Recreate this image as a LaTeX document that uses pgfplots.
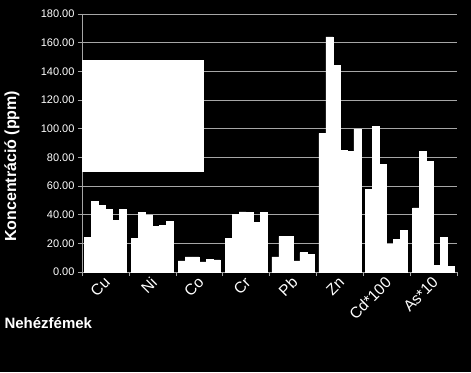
\documentclass[border=0pt]{standalone}
\usepackage{pgfplots}
\pgfplotsset{compat=1.18}
\usepackage{fontspec}
\setmainfont{Liberation Sans}
\begin{document}
\begin{tikzpicture}[x=1pt,y=1pt]
\fill[black] (0,0) rectangle (471,372);
\begin{axis}[
  at={(82pt,100pt)}, anchor=south west,
  width=375pt, height=258pt, scale only axis,
  ybar=0pt, bar width=7.0pt,
  xmin=-0.5, xmax=7.5, ymin=0, ymax=180,
  xtick={0,...,7},
  xticklabels={Cu,Ni,Co,Cr,Pb,Zn,Cd*100,As*10},
  minor xtick={-0.5,0.5,...,7.5},
  ytick={0,20,...,180},
  major x tick style={draw=none},
  minor tick length=4pt, major tick length=4pt,
  tick align=outside,
  every tick/.style={gray!70},
  ymajorgrids, grid style={gray!70, line width=0.8pt},
  axis line style={gray!70},
  axis x line*=bottom, axis y line*=left,
  yticklabel style={/pgf/number format/fixed, /pgf/number format/fixed zerofill, /pgf/number format/precision=2, /pgf/number format/assume math mode=true, font=\fontsize{11}{13}\selectfont, text=white},
  xticklabel style={font=\fontsize{15.5}{17}\selectfont, text=white, rotate=45, anchor=east, xshift=2pt, yshift=-4pt},
  ylabel={\textbf{Koncentráció (ppm)}},
  ylabel style={font=\fontsize{16}{18}\selectfont, text=white, at={(axis description cs:-0.187,0.41)}, anchor=center},
  xlabel={\textbf{Nehézfémek}},
  xlabel style={font=\fontsize{15}{17}\selectfont, text=white, at={(axis description cs:-0.216,-0.198)}, anchor=west},
  cycle list={fill=white,draw=white,line width=0.5pt\\},
]
\addplot coordinates {(0,24.2) (1,23.3) (2,7.7) (3,23.3) (4,10.5) (5,96.7) (6,57.4) (7,44.7)};
\addplot coordinates {(0,49.3) (1,41.4) (2,10.5) (3,40.2) (4,24.9) (5,164.0) (6,101.4) (7,84.2)};
\addplot coordinates {(0,46.5) (1,39.8) (2,10.5) (3,41.9) (4,24.7) (5,144.4) (6,75.3) (7,77.2)};
\addplot coordinates {(0,43.7) (1,31.9) (2,7.0) (3,41.6) (4,7.7) (5,84.7) (6,19.3) (7,4.7)};
\addplot coordinates {(0,35.8) (1,32.6) (2,8.8) (3,34.4) (4,13.5) (5,84.0) (6,23.0) (7,24.4)};
\addplot coordinates {(0,43.7) (1,35.3) (2,8.4) (3,41.6) (4,12.3) (5,99.8) (6,29.3) (7,4.0)};
\fill[white] (axis cs:-0.5,70) rectangle (axis cs:2.1,148);
\end{axis}
\end{tikzpicture}
\end{document}
